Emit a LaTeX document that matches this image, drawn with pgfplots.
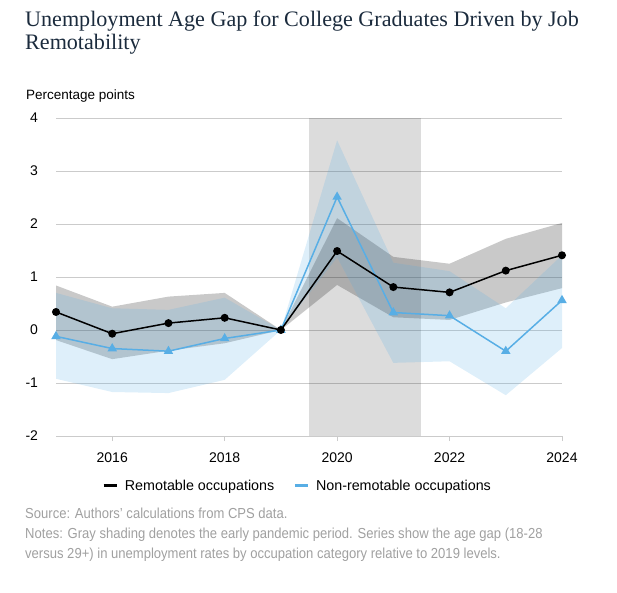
\documentclass[border=0pt]{standalone}
\usepackage{pgfplots}
\pgfplotsset{compat=1.18}
\usepgfplotslibrary{fillbetween}
\usepackage{fontspec}
\setmainfont{Liberation Sans}
\newfontfamily\titlefont{Liberation Serif}
\newfontfamily\notefont[FakeStretch=0.9]{Liberation Sans}
\definecolor{titleblue}{HTML}{1B2B3D}
\definecolor{lineblue}{HTML}{58AEE5}
\definecolor{notegray}{HTML}{A0A0A0}
\definecolor{gridgray}{HTML}{CBCBCB}
\begin{document}
\begin{tikzpicture}
\path (0pt,0pt) rectangle (617pt,592pt);
\node[anchor=base west, inner sep=0pt, text=titleblue, font=\titlefont\fontsize{22.1}{24}\selectfont] at (25pt,565.3pt) {Unemployment Age Gap for College Graduates Driven by Job};
\node[anchor=base west, inner sep=0pt, text=titleblue, font=\titlefont\fontsize{22.1}{24}\selectfont] at (25pt,542pt) {Remotability};
\node[anchor=base west, inner sep=0pt, font=\fontsize{13.5}{16}\selectfont] at (26pt,492pt) {Percentage points};
\begin{axis}[
  at={(56pt,156pt)}, anchor=south west,
  scale only axis, width=506pt, height=318pt,
  xmin=2015, xmax=2024, ymin=-2, ymax=4,
  xtick={2016,2018,2020,2022,2024},
  ytick={-2,-1,0,1,2,3,4},
  /pgf/number format/1000 sep={},
  /pgf/number format/assume math mode=true,
  axis line style={draw=none},
  ymajorgrids, major grid style={gridgray, line width=0.9pt},
  tick align=outside, xtick pos=bottom, ytick pos=left,
  major tick length=5pt,
  xtick style={gridgray, line width=0.9pt},
  ytick style={draw=none},
  tick label style={font=\fontsize{14}{16}\selectfont},
  xticklabel style={yshift=-8.6pt},
  yticklabel style={xshift=-9.5pt},
  legend style={draw=none, fill=none, at={(0.0909,-0.157)}, anchor=west,
    legend columns=2, inner sep=0pt, font=\fontsize{14.3}{16}\selectfont,
    /tikz/every even column/.append style={column sep=17pt}},
  legend image code/.code={\draw[#1, line width=3pt] (0pt,0pt) -- (13pt,0pt); \path (19pt,0pt);},
]
% pandemic shading
\addplot[draw=none, name path=pt, forget plot] coordinates {(2019.5,4) (2021.5,4)};
\addplot[draw=none, name path=pb, forget plot] coordinates {(2019.5,-2) (2021.5,-2)};
\addplot[fill=black, fill opacity=0.137, draw=none, forget plot] fill between[of=pt and pb];
% remotable band
\addplot[draw=none, name path=ru, forget plot] coordinates {
(2015,0.84) (2016,0.44) (2017,0.63) (2018,0.70) (2019,0) (2020,2.11) (2021,1.38) (2022,1.25) (2023,1.72) (2024,2.02)};
\addplot[draw=none, name path=rl, forget plot] coordinates {
(2015,-0.19) (2016,-0.55) (2017,-0.39) (2018,-0.25) (2019,0) (2020,0.85) (2021,0.24) (2022,0.19) (2023,0.52) (2024,0.79)};
\addplot[fill=black, fill opacity=0.21, draw=none, forget plot] fill between[of=ru and rl];
% non-remotable band
\addplot[draw=none, name path=nu, forget plot] coordinates {
(2015,0.70) (2016,0.41) (2017,0.38) (2018,0.61) (2019,0) (2020,3.58) (2021,1.27) (2022,1.11) (2023,0.41) (2024,1.41)};
\addplot[draw=none, name path=nl, forget plot] coordinates {
(2015,-0.92) (2016,-1.17) (2017,-1.19) (2018,-0.94) (2019,0) (2020,1.37) (2021,-0.62) (2022,-0.59) (2023,-1.23) (2024,-0.34)};
\addplot[fill=lineblue, fill opacity=0.2, draw=none, forget plot] fill between[of=nu and nl];
% lines
\addplot[lineblue, line width=1.5pt, mark=triangle*, mark size=4pt, forget plot] coordinates {
(2015,-0.12) (2016,-0.35) (2017,-0.40) (2018,-0.16) (2019,0) (2020,2.51) (2021,0.33) (2022,0.27) (2023,-0.40) (2024,0.56)};
\addplot[black, line width=1.5pt, mark=*, mark size=3.2pt, forget plot] coordinates {
(2015,0.34) (2016,-0.07) (2017,0.13) (2018,0.23) (2019,0) (2020,1.49) (2021,0.81) (2022,0.71) (2023,1.12) (2024,1.41)};
\addlegendimage{black}
\addlegendentry{Remotable occupations}
\addlegendimage{lineblue}
\addlegendentry{Non-remotable occupations}
\end{axis}
\node[anchor=base west, inner sep=0pt, text=notegray, font=\notefont\fontsize{14.5}{16}\selectfont] at (25pt,73.7pt) {Source: Authors’ calculations from CPS data.};
\node[anchor=base west, inner sep=0pt, text=notegray, font=\notefont\fontsize{14.5}{16}\selectfont] at (25pt,53.7pt) {Notes: Gray shading denotes the early pandemic period. Series show the age gap (18-28};
\node[anchor=base west, inner sep=0pt, text=notegray, font=\notefont\fontsize{14.5}{16}\selectfont] at (25pt,33.7pt) {versus 29+) in unemployment rates by occupation category relative to 2019 levels.};
\end{tikzpicture}
\end{document}
